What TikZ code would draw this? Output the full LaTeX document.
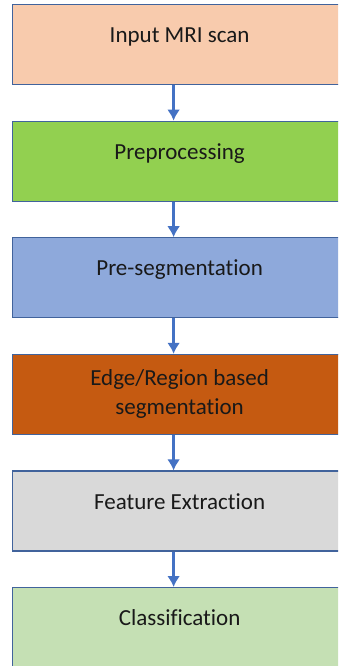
\documentclass[tikz,border=0pt]{standalone}
\usepackage{fontspec}
\setmainfont{Carlito}[Ligatures=NoCommon]
\usepackage{xcolor}
\usetikzlibrary{arrows.meta, positioning}

\definecolor{boxline}{HTML}{41639C}
\definecolor{arrowblue}{HTML}{4472C4}
\definecolor{scanfill}{HTML}{F8CBAD}
\definecolor{prepfill}{HTML}{92D050}
\definecolor{presegfill}{HTML}{8EA9DB}
\definecolor{segfill}{HTML}{C55A11}
\definecolor{featfill}{HTML}{D9D9D9}
\definecolor{classfill}{HTML}{C5E0B4}

\begin{document}
\begin{tikzpicture}[
node distance=35.4pt,
box/.style={draw=boxline, line width=1.2pt, rectangle,
minimum width=334pt,
minimum height=80pt,
inner sep=0pt,
text height=38pt, text depth=42pt,
align=center, text=black!90,
font=\fontsize{23}{29}\selectfont},
twolines/.style={text height={}, text depth={}},
arrow/.style={-{Latex[length=11pt, width=13pt]}, line width=2.6pt, draw=arrowblue}
]

\clip (0,0) rectangle (338pt,-666pt);

\node[box, fill=scanfill, anchor=north west] (scan) at (12pt,-4pt) {Input MRI scan};
\node[box, fill=prepfill, below=of scan] (prep) {Preprocessing};
\node[box, fill=presegfill, below=of prep] (preseg) {Pre-segmentation};
\node[box, twolines, fill=segfill, below=of preseg] (seg) {Edge/Region based\\segmentation};
\node[box, fill=featfill, below=of seg] (feat) {Feature Extraction};
\node[box, fill=classfill, below=of feat] (classif) {Classification};

\draw[arrow] ([xshift=-6pt]scan.south) -- ([xshift=-6pt]prep.north);
\draw[arrow] ([xshift=-6pt]prep.south) -- ([xshift=-6pt]preseg.north);
\draw[arrow] ([xshift=-6pt]preseg.south) -- ([xshift=-6pt]seg.north);
\draw[arrow] ([xshift=-6pt]seg.south) -- ([xshift=-6pt]feat.north);
\draw[arrow] ([xshift=-6pt]feat.south) -- ([xshift=-6pt]classif.north);

\end{tikzpicture}
\end{document}
